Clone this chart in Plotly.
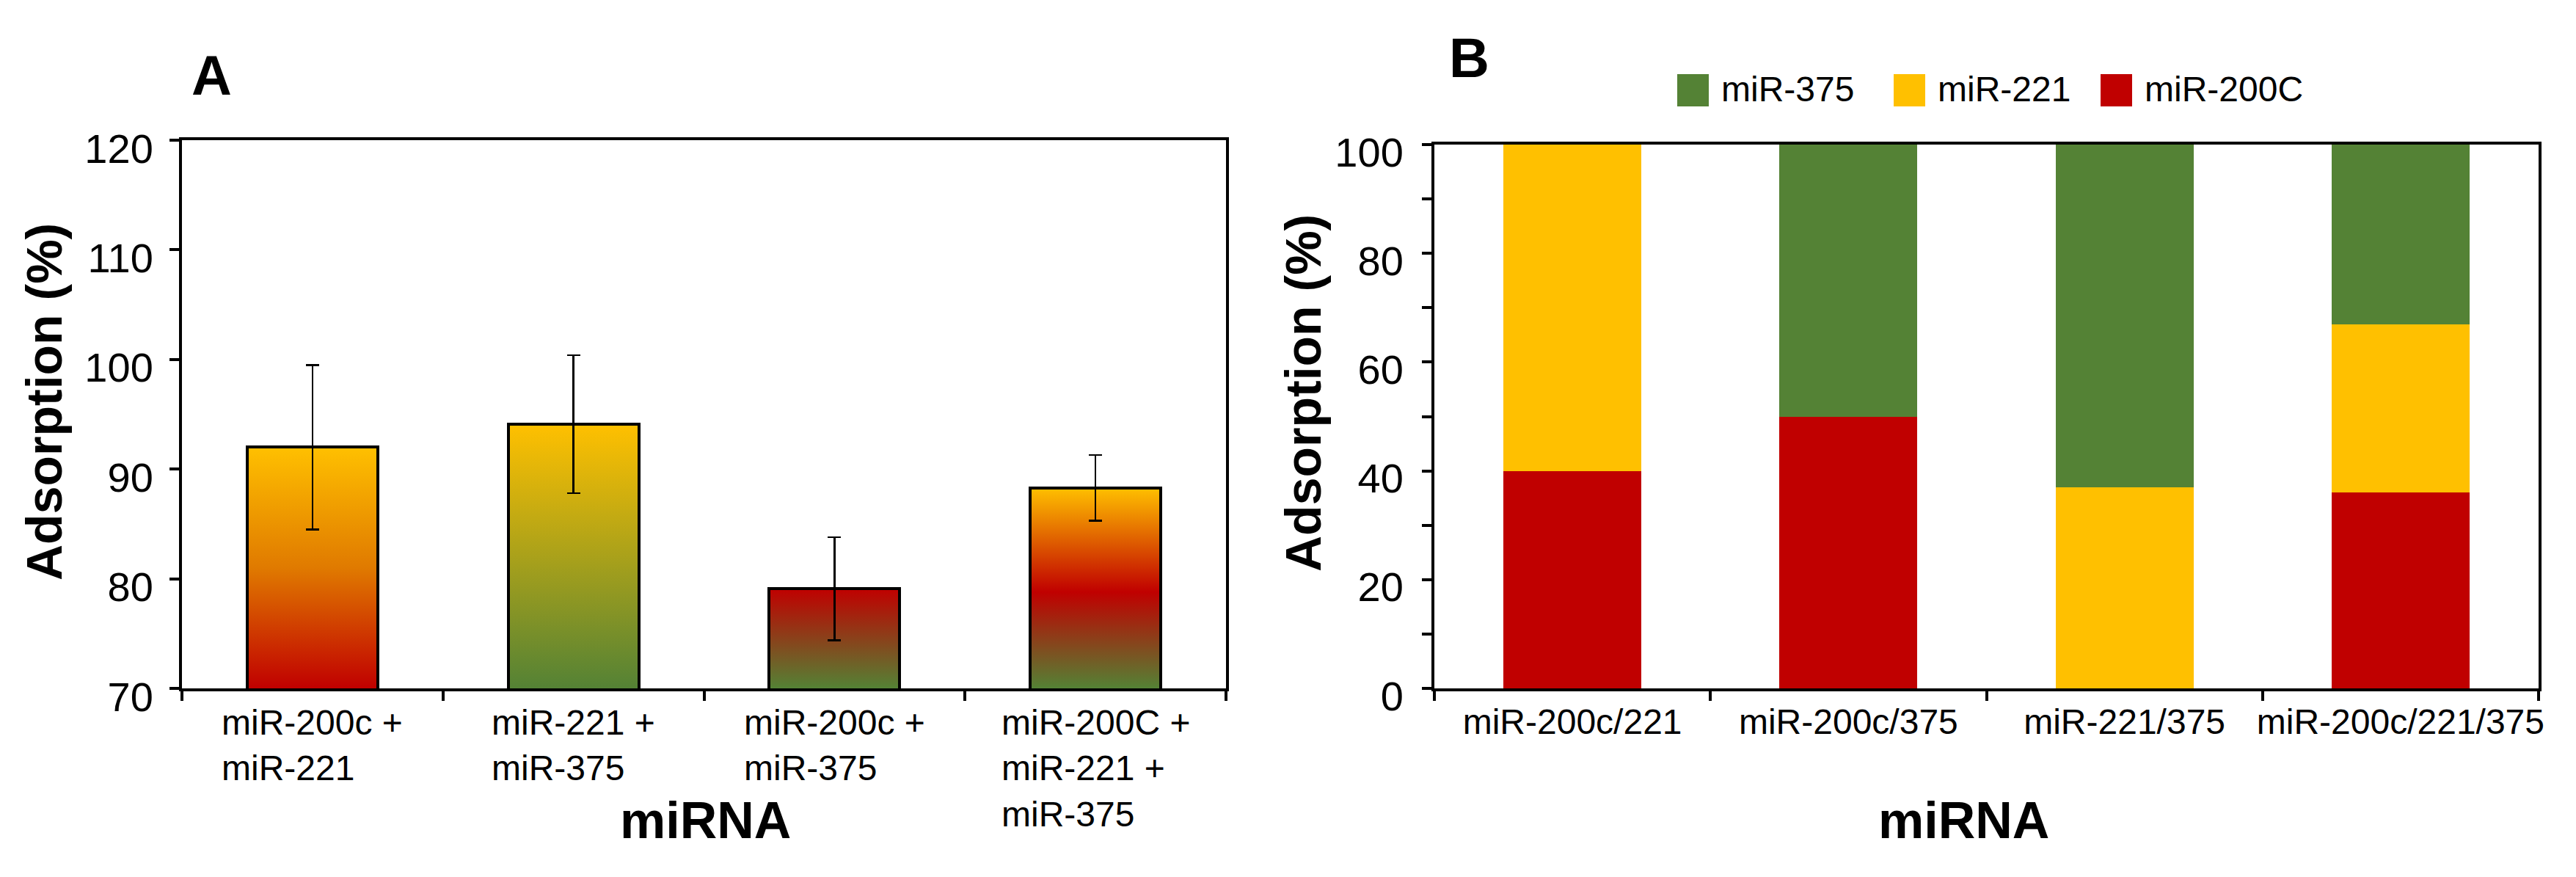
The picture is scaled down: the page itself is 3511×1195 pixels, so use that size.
import plotly.graph_objects as go

# ---------------- data ----------------
categories_a = ["miR-200c +<br>miR-221", "miR-221 +<br>miR-375",
                "miR-200c +<br>miR-375", "miR-200C +<br>miR-221 +<br>miR-375"]
means_a = [92.0, 94.1, 79.1, 88.3]
errors_a = [7.5, 6.3, 4.7, 3.0]
yticks_a = [70, 80, 90, 100, 110, 120]

categories_b = ["miR-200c/221", "miR-200c/375", "miR-221/375", "miR-200c/221/375"]
mir200c_b = [40, 50, 0, 36]
mir221_b = [60, 0, 37, 31]
mir375_b = [0, 50, 63, 33]
yticks_b = [0, 20, 40, 60, 80, 100]

legend_labels = ["miR-375", "miR-221", "miR-200C"]

# ---------------- style ----------------
W, H = 3511, 1195
FONT = "Liberation Sans, Arial, sans-serif"
RED, YELLOW, GREEN = "#C00000", "#FFC000", "#548235"
legend_colors = [GREEN, YELLOW, RED]
gradients = [
    [[0, RED], [0.5, "#E07A00"], [1, YELLOW]],
    [[0, GREEN], [1, YELLOW]],
    [[0, GREEN], [1, RED]],
    [[0, GREEN], [0.48, RED], [1, YELLOW]],
]
BAR_W = 0.5
LW = 4

def px_x(p):
    return p / W

def px_y(p):
    return 1 - p / H

dom_ax = [px_x(240), px_x(1663)]
dom_ay = [px_y(930), px_y(183)]
dom_bx = [px_x(1947), px_x(3452)]
dom_by = [px_y(930), px_y(189)]

fig = go.Figure()

# gradient fills for panel A (base subplot x / y)
ybase = yticks_a[0]
for i, v in enumerate(means_a):
    xs = [i - BAR_W / 2, i + BAR_W / 2, i + BAR_W / 2, i - BAR_W / 2, i - BAR_W / 2]
    ys = [ybase, ybase, v, v, ybase]
    fig.add_trace(go.Scatter(
        x=xs, y=ys, mode="lines", fill="toself",
        fillgradient=dict(type="vertical", colorscale=gradients[i]),
        line=dict(width=0), hoverinfo="skip", showlegend=False,
        xaxis="x", yaxis="y"))

# outlined bars with error bars on the category overlay axis
fig.add_trace(go.Bar(
    x=categories_a, y=means_a, width=BAR_W,
    marker=dict(color="rgba(0,0,0,0)", line=dict(color="black", width=LW)),
    error_y=dict(type="data", array=errors_a, color="black", thickness=2.5, width=9),
    showlegend=False, xaxis="x3", yaxis="y"))

# panel B stacked bars
for name, vals, col in [("miR-200C", mir200c_b, RED),
                        ("miR-221", mir221_b, YELLOW),
                        ("miR-375", mir375_b, GREEN)]:
    fig.add_trace(go.Bar(
        x=categories_b, y=vals, name=name, width=BAR_W,
        marker=dict(color=col, line=dict(width=0)),
        showlegend=False, xaxis="x2", yaxis="y2"))

axis_common = dict(showline=True, linecolor="black", linewidth=LW, mirror=True,
                   showgrid=False, zeroline=False, ticks="outside", ticklen=13,
                   tickwidth=3.5, tickcolor="black", automargin=False,
                   tickfont=dict(family=FONT, size=48, color="black"))

fig.update_layout(
    width=W, height=H, margin=dict(l=0, r=0, t=0, b=0),
    paper_bgcolor="white", plot_bgcolor="white",
    barmode="stack", showlegend=False,
    font=dict(family=FONT, color="black"),
    xaxis=dict(domain=dom_ax, anchor="y", range=[-0.5, 3.5], visible=False,
               fixedrange=True),
    xaxis3=dict(axis_common, overlaying="x", anchor="y", type="category",
                range=[-0.5, 3.5], tickson="boundaries", showticklabels=False),
    yaxis=dict(axis_common, domain=dom_ay, anchor="x", range=[yticks_a[0], yticks_a[-1]],
               tickmode="array", tickvals=yticks_a, ticklabelstandoff=11,
               ticklabelshift=11,
               tickfont=dict(family=FONT, size=56, color="black")),
    xaxis2=dict(axis_common, domain=dom_bx, anchor="y2", type="category",
                range=[-0.5, 3.5], tickson="boundaries", tickangle=0),
    yaxis2=dict(axis_common, domain=dom_by, anchor="x2", range=[yticks_b[0], yticks_b[-1]],
                tickmode="array", tickvals=yticks_b, ticklabelstandoff=14,
                ticklabelshift=10,
                tickfont=dict(family=FONT, size=56, color="black"),
                minor=dict(dtick=10, tick0=0, ticks="outside", ticklen=13,
                           tickwidth=3.5, tickcolor="black")),
)

ann = []
def add_text(text, x, y, size, bold=False, angle=0, xanchor="center", yanchor="middle"):
    ann.append(dict(text=f"<b>{text}</b>" if bold else text, x=px_x(x), y=px_y(y),
                    xref="paper", yref="paper", showarrow=False, textangle=angle,
                    xanchor=xanchor, yanchor=yanchor,
                    font=dict(family=FONT, size=size, color="black")))

add_text("A", 280, 94, 76, bold=True)
add_text("B", 1994, 70, 76, bold=True)
add_text("Adsorption (%)", 52, 540, 68, bold=True, angle=-90)
add_text("Adsorption (%)", 1768, 528, 68, bold=True, angle=-90)
add_text("miRNA", 953, 1110, 70, bold=True)
add_text("miRNA", 2668, 1110, 70, bold=True)

# category labels of panel A (left-aligned lines, centred under each bar)
for i, lab in enumerate(categories_a):
    ann.append(dict(text=lab, x=i, xref="x3", y=px_y(948), yref="paper",
                    showarrow=False, xanchor="center", yanchor="top", align="left",
                    font=dict(family=FONT, size=48, color="black")))

# legend for panel B
legend_sq_x = [2278, 2573, 2855]
shapes = []
for lab, col, sx in zip(legend_labels, legend_colors, legend_sq_x):
    shapes.append(dict(type="rect", xref="paper", yref="paper",
                       x0=px_x(sx), x1=px_x(sx + 43), y0=px_y(137), y1=px_y(93),
                       fillcolor=col, line=dict(width=0)))
    add_text(lab, sx + 58, 113, 48, xanchor="left")

fig.update_layout(annotations=ann, shapes=shapes)

fig.write_html("out.html")
